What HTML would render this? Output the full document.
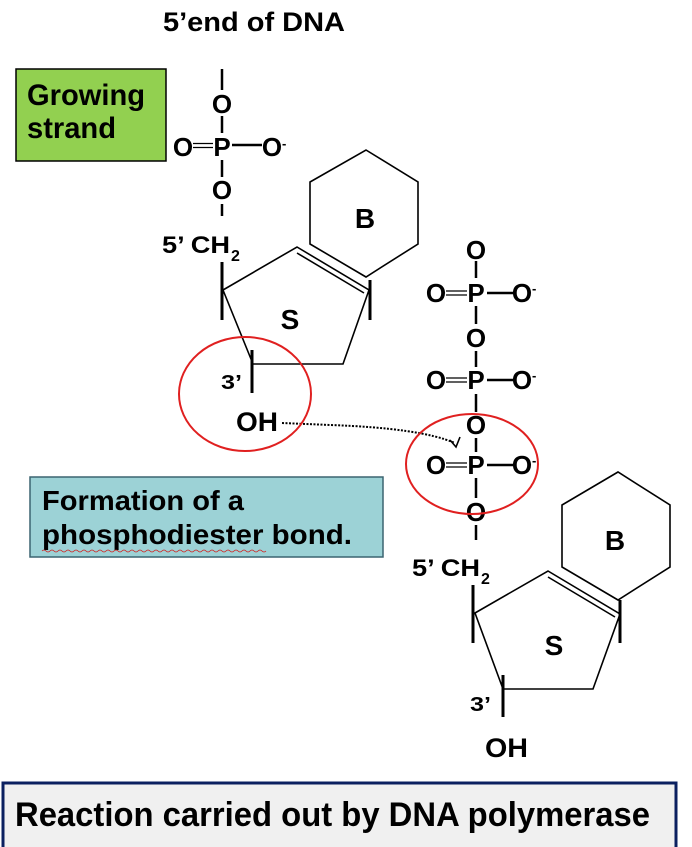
<!DOCTYPE html>
<html><head><style>
html,body{margin:0;padding:0;background:#fff;}
svg{display:block;}
text{font-family:"Liberation Sans",Arial,sans-serif;font-weight:bold;fill:#000;}
.c{text-anchor:middle;font-size:26px;}
</style></head><body>
<svg width="692" height="847" viewBox="0 0 692 847" xmlns="http://www.w3.org/2000/svg">
<text x="163" y="31" font-size="27" textLength="182" lengthAdjust="spacingAndGlyphs">5’end of DNA</text>
<rect x="16" y="69" width="150" height="92" fill="#92d050" stroke="#000" stroke-width="1.5"/>
<text x="27" y="105" font-size="30" textLength="118" lengthAdjust="spacingAndGlyphs">Growing</text>
<text x="27" y="138" font-size="30" textLength="89" lengthAdjust="spacingAndGlyphs">strand</text>

<g stroke="#000" stroke-width="2.5">
<line x1="222" y1="69" x2="222" y2="90"/>
<line x1="222" y1="116" x2="222" y2="133"/>
<line x1="222" y1="160" x2="222" y2="177"/>
<line x1="222" y1="204" x2="222" y2="216"/>
<line x1="193" y1="143.5" x2="213" y2="143.5" stroke-width="1.2"/>
<line x1="193" y1="147.5" x2="213" y2="147.5" stroke-width="1.2"/>
<line x1="232" y1="145" x2="262" y2="145"/>
</g>
<text class="c" x="222" y="113">O</text>
<text class="c" x="183" y="156">O</text>
<text class="c" x="222" y="156">P</text>
<text class="c" x="272" y="156">O</text>
<text x="282" y="148" font-size="13">-</text>
<text class="c" x="222" y="199">O</text>
<text x="162" y="253" font-size="24" textLength="68" lengthAdjust="spacingAndGlyphs">5’ CH</text>
<text x="231" y="261" font-size="16">2</text>

<g fill="none" stroke="#000" stroke-width="1.6">
<polygon points="310,182 310,244 366,277 418,244 418,182 366,150"/>
<polygon points="223,290 297,247 369,290 343,364 253,364"/>
<line x1="297" y1="253" x2="364" y2="293"/>
<polygon points="562,505 562,567 618,600 670,567 670,505 618,472"/>
<polygon points="475,613 548,571 620,614 593,689 503,689"/>
<line x1="548" y1="577" x2="615" y2="617"/>
</g>
<g stroke="#000" stroke-width="3">
<line x1="222" y1="262" x2="222" y2="320"/>
<line x1="370" y1="280" x2="370" y2="320"/>
<line x1="252" y1="350" x2="252" y2="393"/>
<line x1="473" y1="585" x2="473" y2="643"/>
<line x1="620" y1="600" x2="620" y2="643"/>
<line x1="503" y1="675" x2="503" y2="717"/>
</g>
<text class="c" x="365" y="228" style="font-size:28px">B</text>
<text class="c" x="290" y="329" style="font-size:28px">S</text>
<text x="221" y="389" font-size="20" textLength="21" lengthAdjust="spacingAndGlyphs">3’</text>
<text x="236" y="431" font-size="27" textLength="42" lengthAdjust="spacingAndGlyphs">OH</text>
<text class="c" x="615" y="550" style="font-size:28px">B</text>
<text class="c" x="554" y="655" style="font-size:28px">S</text>
<text x="470" y="711" font-size="20" textLength="21" lengthAdjust="spacingAndGlyphs">3’</text>
<text x="485" y="757" font-size="27" textLength="43" lengthAdjust="spacingAndGlyphs">OH</text>

<g stroke="#000" stroke-width="2.5">
<line x1="476" y1="261" x2="476" y2="278"/>
<line x1="476" y1="306" x2="476" y2="324"/>
<line x1="476" y1="351" x2="476" y2="367"/>
<line x1="476" y1="394" x2="476" y2="412"/>
<line x1="476" y1="438" x2="476" y2="452"/>
<line x1="476" y1="478" x2="476" y2="498"/>
<line x1="476" y1="525" x2="476" y2="540"/>
<line x1="446" y1="291" x2="467" y2="291" stroke-width="1.2"/>
<line x1="446" y1="295" x2="467" y2="295" stroke-width="1.2"/>
<line x1="487" y1="293" x2="513" y2="293"/>
<line x1="446" y1="378" x2="467" y2="378" stroke-width="1.2"/>
<line x1="446" y1="382" x2="467" y2="382" stroke-width="1.2"/>
<line x1="487" y1="380" x2="513" y2="380"/>
<line x1="446" y1="463" x2="467" y2="463" stroke-width="1.2"/>
<line x1="446" y1="467" x2="467" y2="467" stroke-width="1.2"/>
<line x1="487" y1="465" x2="513" y2="465"/>
</g>
<text class="c" x="476" y="259">O</text>
<text class="c" x="436" y="302">O</text>
<text class="c" x="476" y="302">P</text>
<text class="c" x="522" y="302">O</text>
<text x="532" y="293" font-size="13">-</text>
<text class="c" x="476" y="347">O</text>
<text class="c" x="436" y="389">O</text>
<text class="c" x="476" y="389">P</text>
<text class="c" x="522" y="389">O</text>
<text x="532" y="380" font-size="13">-</text>
<text class="c" x="476" y="434">O</text>
<text class="c" x="436" y="474">O</text>
<text class="c" x="476" y="474">P</text>
<text class="c" x="522" y="474">O</text>
<text x="532" y="465" font-size="13">-</text>
<text class="c" x="476" y="521">O</text>
<text x="412" y="576" font-size="24" textLength="68" lengthAdjust="spacingAndGlyphs">5’ CH</text>
<text x="481" y="584" font-size="16">2</text>

<path d="M282,423 L330,425 Q420,428 455,443" fill="none" stroke="#000" stroke-width="2" stroke-dasharray="2,1.5"/>
<path d="M450,440 L456,447 L460,437" fill="none" stroke="#000" stroke-width="1.6"/>

<ellipse cx="245" cy="394" rx="66" ry="57" fill="none" stroke="#e02020" stroke-width="2"/>
<ellipse cx="472" cy="464" rx="66" ry="50" fill="none" stroke="#e02020" stroke-width="2"/>

<rect x="30" y="477" width="353" height="80" fill="#9cd2d6" stroke="#3b6470" stroke-width="1.5"/>
<text x="42" y="510" font-size="28" textLength="202" lengthAdjust="spacingAndGlyphs">Formation of a</text>
<text x="42" y="544" font-size="28" textLength="310" lengthAdjust="spacingAndGlyphs">phosphodiester bond.</text>
<path d="M42,551 q2,-2 4,0 t4,0 t4,0 t4,0 t4,0 t4,0 t4,0 t4,0 t4,0 t4,0 t4,0 t4,0 t4,0 t4,0 t4,0 t4,0 t4,0 t4,0 t4,0 t4,0 t4,0 t4,0 t4,0 t4,0 t4,0 t4,0 t4,0 t4,0 t4,0 t4,0 t4,0 t4,0 t4,0 t4,0 t4,0 t4,0 t4,0 t4,0 t4,0 t4,0 t4,0 t4,0 t4,0 t4,0 t4,0 t4,0 t4,0 t4,0 t4,0 t4,0 t4,0 t4,0 t4,0 t4,0 t4,0 t4,0" fill="none" stroke="#d02020" stroke-width="0.8"/>

<rect x="3" y="783" width="673" height="66" fill="#f0f0f0" stroke="#0b2060" stroke-width="3"/>
<text x="15" y="826" font-size="34" textLength="635" lengthAdjust="spacingAndGlyphs">Reaction carried out by DNA polymerase</text>
</svg>
</body></html>
